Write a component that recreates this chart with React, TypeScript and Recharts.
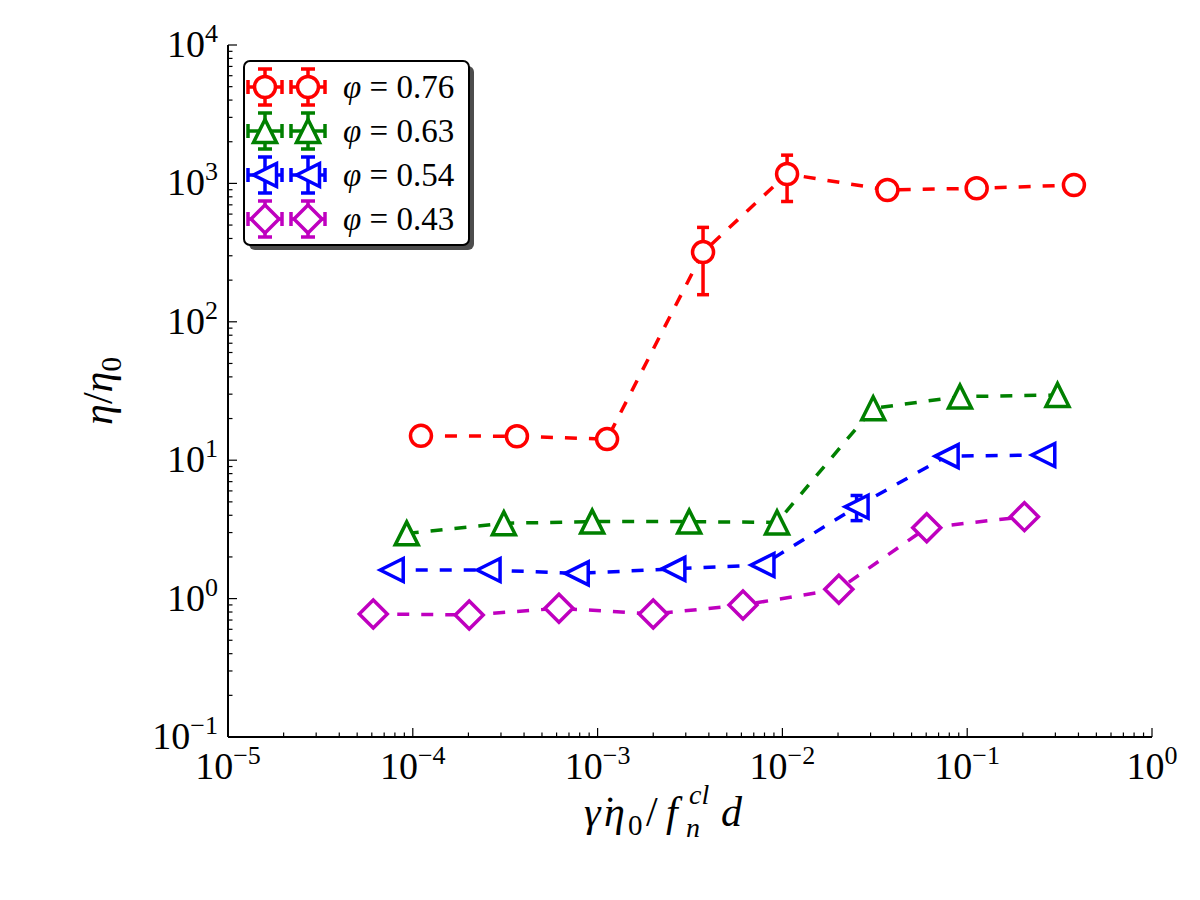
import React from 'react';
import { ScatterChart, Scatter, XAxis, YAxis, ErrorBar } from 'recharts';

// ---- data: reduced viscosity vs. dimensionless shear rate ----
const phi076X = [1.107e-4, 3.66e-4, 1.125e-3, 3.72e-3, 1.06e-2, 0.037, 0.1125, 0.378];
const phi076Y = [15.0, 14.9, 14.2, 319, 1170, 896, 922, 973];
const phi076Err = [0, 0, 0, 162, 430, 0, 0, 0];

const phi063X = [9.27e-5, 3.11e-4, 9.35e-4, 3.13e-3, 9.35e-3, 0.031, 0.0914, 0.308];
const phi063Y = [2.96, 3.5, 3.6, 3.6, 3.55, 23.7, 28.8, 29.6];
const phi063Err = [0, 0, 0, 0, 0, 0, 0, 0];

const phi054X = [7.69e-5, 2.57e-4, 7.71e-4, 2.57e-3, 7.8e-3, 0.0252, 0.0774, 0.258];
const phi054Y = [1.61, 1.61, 1.52, 1.64, 1.75, 4.61, 10.7, 10.9];
const phi054Err = [0, 0, 0, 0, 0, 0.95, 0, 0];

const phi043X = [6.11e-5, 2.02e-4, 6.18e-4, 2.0e-3, 6.12e-3, 0.0202, 0.0604, 0.204];
const phi043Y = [0.774, 0.762, 0.851, 0.774, 0.899, 1.17, 3.25, 3.91];
const phi043Err = [0, 0, 0, 0, 0, 0, 0, 0];

const seriesLabels = ['0.76', '0.63', '0.54', '0.43'];
const seriesColors = ['#ff0000', '#008000', '#0000ff', '#bf00bf'];
const seriesMarkers = ['circle', 'triUp', 'triLeft', 'diamond'];

const xMajorTicks = [1e-5, 1e-4, 1e-3, 1e-2, 1e-1, 1];
const yMajorTicks = [1e-1, 1, 10, 100, 1000, 10000];
const minorSteps = [2, 3, 4, 5, 6, 7, 8, 9];

const withMinors = (majors: number[]) => {
  const out: number[] = [];
  majors.forEach((m, i) => {
    out.push(m);
    if (i < majors.length - 1) minorSteps.forEach((s) => out.push(m * s));
  });
  return out;
};
const xTicks = withMinors(xMajorTicks);
const yTicks = withMinors(yMajorTicks);

const build = (xs: number[], ys: number[], es: number[]) =>
  xs.map((x, i) => ({ x, y: ys[i], err: es[i] }));

const seriesData = [
  build(phi076X, phi076Y, phi076Err),
  build(phi063X, phi063Y, phi063Err),
  build(phi054X, phi054Y, phi054Err),
  build(phi043X, phi043Y, phi043Err),
];

const FONT = '"Liberation Serif", "DejaVu Serif", serif';
const LW = 3.5;
const TICK_FS = 38;
const SUP_FS = 26;

const isMajor = (v: number) => {
  const l = Math.log10(v);
  return Math.abs(l - Math.round(l)) < 1e-6;
};
const expText = (v: number) => {
  const e = Math.round(Math.log10(v));
  return e < 0 ? '\u2212' + Math.abs(e) : String(e);
};

// ---- marker glyphs ----
const Marker = ({ kind, cx, cy, color }: { kind: string; cx: number; cy: number; color: string }) => {
  const common = { fill: '#fff', stroke: color, strokeWidth: LW, strokeLinejoin: 'miter' as const };
  if (kind === 'circle') return <circle cx={cx} cy={cy} r={10.5} {...common} />;
  if (kind === 'triUp') {
    const s = 11.5;
    return <polygon points={`${cx},${cy - s} ${cx - s},${cy + s} ${cx + s},${cy + s}`} {...common} />;
  }
  if (kind === 'triLeft') {
    const s = 11.5;
    return <polygon points={`${cx - s},${cy} ${cx + s},${cy - s} ${cx + s},${cy + s}`} {...common} />;
  }
  const d = 14;
  return <polygon points={`${cx},${cy - d} ${cx + d},${cy} ${cx},${cy + d} ${cx - d},${cy}`} {...common} />;
};

const makeShape = (kind: string, color: string) => (props: any) =>
  <Marker kind={kind} cx={props.cx} cy={props.cy} color={color} />;

// ---- axis ticks (inward, mirrored on top/right) ----
const BottomTick = (props: any) => {
  const { x, y, payload } = props;
  const major = isMajor(payload.value);
  const len = major ? 9 : 4.5;
  return (
    <g>
      <line x1={x} y1={y} x2={x} y2={y - len} stroke="#000" strokeWidth={1.2} />
      {major && (
        <text x={x} y={y + 42} textAnchor="middle" fontFamily={FONT} fontSize={TICK_FS} fill="#000">
          <tspan>10</tspan>
          <tspan dy={-15} fontSize={SUP_FS}>{expText(payload.value)}</tspan>
        </text>
      )}
    </g>
  );
};
const TopTick = (props: any) => {
  const { x, y, payload } = props;
  const len = isMajor(payload.value) ? 9 : 4.5;
  return <line x1={x} y1={y} x2={x} y2={y + len} stroke="#000" strokeWidth={1.2} />;
};
const LeftTick = (props: any) => {
  const { x, y, payload } = props;
  const major = isMajor(payload.value);
  const len = major ? 9 : 4.5;
  return (
    <g>
      <line x1={x} y1={y} x2={x + len} y2={y} stroke="#000" strokeWidth={1.2} />
      {major && (
        <text x={x - 10} y={y + 12} textAnchor="end" fontFamily={FONT} fontSize={TICK_FS} fill="#000">
          <tspan>10</tspan>
          <tspan dy={-15} fontSize={SUP_FS}>{expText(payload.value)}</tspan>
        </text>
      )}
    </g>
  );
};
const RightTick = (props: any) => {
  const { x, y, payload } = props;
  const len = isMajor(payload.value) ? 9 : 4.5;
  return <line x1={x} y1={y} x2={x - len} y2={y} stroke="#000" strokeWidth={1.2} />;
};

// ---- legend with error-bar glyphs ----
const LegendGlyph = ({ cx, cy, kind, color }: any) => (
  <g>
    <line x1={cx} y1={cy - 18} x2={cx} y2={cy + 18} stroke={color} strokeWidth={LW} />
    <line x1={cx - 7} y1={cy - 18} x2={cx + 7} y2={cy - 18} stroke={color} strokeWidth={LW} />
    <line x1={cx - 7} y1={cy + 18} x2={cx + 7} y2={cy + 18} stroke={color} strokeWidth={LW} />
    <line x1={cx - 17} y1={cy} x2={cx + 17} y2={cy} stroke={color} strokeWidth={LW} />
    <line x1={cx - 17} y1={cy - 7} x2={cx - 17} y2={cy + 7} stroke={color} strokeWidth={LW} />
    <line x1={cx + 17} y1={cy - 7} x2={cx + 17} y2={cy + 7} stroke={color} strokeWidth={LW} />
    <Marker kind={kind} cx={cx} cy={cy} color={color} />
  </g>
);

const LegendBox = () => {
  const left = 244;
  const top = 61;
  const w = 225;
  const h = 184;
  return (
    <g>
      <rect x={left + 5} y={top + 5} width={w} height={h} rx={6} fill="#4d4d4d" />
      <rect x={left} y={top} width={w} height={h} rx={6} fill="#fff" stroke="#000" strokeWidth={2} />
      {seriesLabels.map((lab, i) => {
        const cy = top + 26 + i * 44;
        return (
          <g key={lab}>
            <LegendGlyph cx={left + 21} cy={cy} kind={seriesMarkers[i]} color={seriesColors[i]} />
            <LegendGlyph cx={left + 64} cy={cy} kind={seriesMarkers[i]} color={seriesColors[i]} />
            <text x={left + 99} y={cy + 11} fontFamily={FONT} fontSize={33} fill="#000">
              <tspan fontStyle="italic">φ</tspan>
              <tspan> = {lab}</tspan>
            </text>
          </g>
        );
      })}
    </g>
  );
};

export default function App() {
  return (
    <div style={{ position: 'absolute', left: 0, top: 0, width: 1200, height: 900, background: '#fff' }}>
      <ScatterChart width={1200} height={900} margin={{ top: 45, right: 48, bottom: 0, left: 0 }}>
        <XAxis
          xAxisId="b"
          type="number"
          dataKey="x"
          scale="log"
          domain={[1e-5, 1]}
          allowDataOverflow
          ticks={xTicks}
          interval={0}
          height={163}
          tickSize={0}
          tickMargin={0}
          tickLine={false}
          axisLine={{ stroke: '#000', strokeWidth: 2 }}
          tick={<BottomTick />}
        />
        <XAxis
          xAxisId="t"
          orientation="top"
          type="number"
          dataKey="x"
          scale="log"
          domain={[1e-5, 1]}
          allowDataOverflow
          ticks={xTicks}
          interval={0}
          height={0}
          tickSize={0}
          tickMargin={0}
          tickLine={false}
          axisLine={{ stroke: '#000', strokeWidth: 2 }}
          tick={<TopTick />}
        />
        <YAxis
          yAxisId="l"
          type="number"
          dataKey="y"
          scale="log"
          domain={[0.1, 10000]}
          allowDataOverflow
          ticks={yTicks}
          interval={0}
          width={228}
          tickSize={0}
          tickMargin={0}
          tickLine={false}
          axisLine={{ stroke: '#000', strokeWidth: 2 }}
          tick={<LeftTick />}
        />
        <YAxis
          yAxisId="r"
          orientation="right"
          type="number"
          dataKey="y"
          scale="log"
          domain={[0.1, 10000]}
          allowDataOverflow
          ticks={yTicks}
          interval={0}
          width={0}
          tickSize={0}
          tickMargin={0}
          tickLine={false}
          axisLine={{ stroke: '#000', strokeWidth: 2 }}
          tick={<RightTick />}
        />
        {seriesData.map((data, i) => (
          <Scatter
            key={seriesLabels[i]}
            name={seriesLabels[i]}
            data={data}
            xAxisId="b"
            yAxisId="l"
            fill={seriesColors[i]}
            line={{ stroke: seriesColors[i], strokeWidth: LW, strokeDasharray: '12 12' }}
            shape={makeShape(seriesMarkers[i], seriesColors[i])}
            isAnimationActive={false}
          >
            <ErrorBar dataKey="err" direction="y" width={6} stroke={seriesColors[i]} strokeWidth={LW} />
          </Scatter>
        ))}
      </ScatterChart>
      <svg
        width={1200}
        height={900}
        style={{ position: 'absolute', left: 0, top: 0, pointerEvents: 'none' }}
      >
        <LegendBox />
        <text
          x={112}
          y={391}
          transform="rotate(-90, 112, 391)"
          textAnchor="middle"
          fontFamily={FONT}
          fontSize={42}
          fill="#000"
        >
          <tspan fontStyle="italic">η</tspan>
          <tspan>/</tspan>
          <tspan fontStyle="italic">η</tspan>
          <tspan fontSize={29} dy={9}>0</tspan>
        </text>
        {/* x-axis label: gamma-dot eta_0 / f_n^cl d */}
        <g fontFamily={FONT} fill="#000" fontStyle="italic">
          <text x={584} y={826} fontSize={42}>{'γ\u0307'}</text>
          <text x={604} y={826} fontSize={42}>η</text>
          <text x={628} y={835} fontSize={29} fontStyle="normal">0</text>
          <text x={646} y={826} fontSize={42} fontStyle="normal">/</text>
          <text x={666} y={826} fontSize={42}>f</text>
          <text x={689} y={804} fontSize={28}>cl</text>
          <text x={686} y={837} fontSize={28}>n</text>
          <text x={721} y={826} fontSize={42}>d</text>
        </g>
      </svg>
    </div>
  );
}
